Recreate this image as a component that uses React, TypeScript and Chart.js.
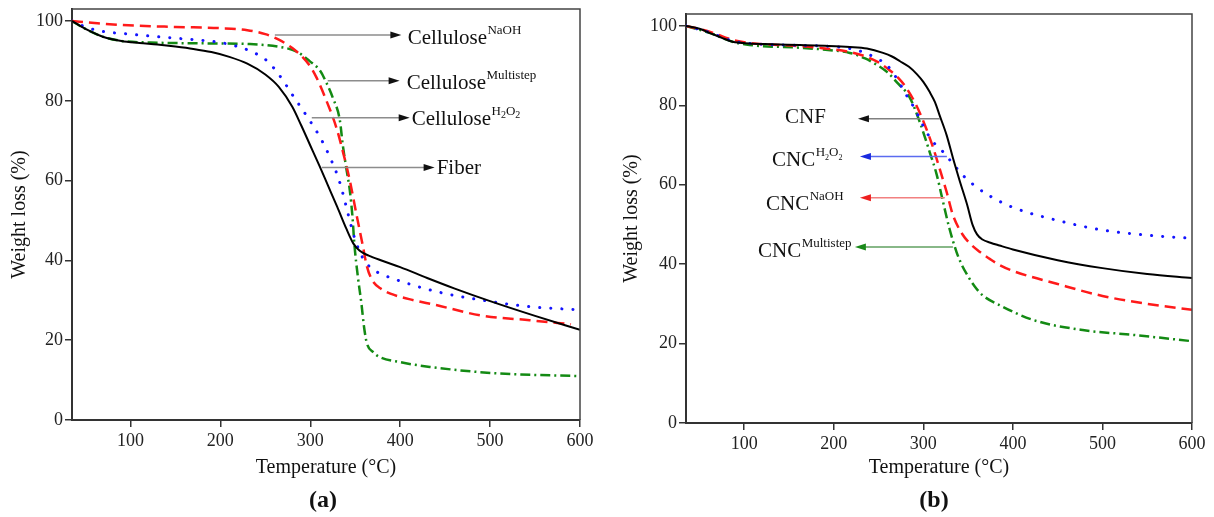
import React, { useEffect, useRef } from "react";
import { Chart, registerables } from "chart.js";
Chart.register(...registerables);

const FONT = "'Liberation Serif', 'Times New Roman', serif";
Chart.defaults.font.family = FONT;

const xTicks = [100, 200, 300, 400, 500, 600];
const yTicks = [0, 20, 40, 60, 80, 100];

// ---------- Panel (a) ----------
const fiberT = [35, 50, 70, 90, 110, 130, 150, 170, 190, 210, 230, 250, 265, 280, 290, 300, 310, 320, 330, 340, 348, 355, 365, 380, 400, 430, 460, 500, 550, 600];
const fiberW = [100, 98, 96, 95, 94.5, 94.1, 93.6, 93, 92.2, 91, 89.3, 86.6, 83.5, 78.5, 73.8, 68.8, 63.8, 58.6, 53.4, 48, 44.2, 42.4, 41.2, 39.9, 38.3, 35.6, 33, 29.8, 26.1, 22.6];

const naohT = [35, 60, 90, 150, 200, 230, 250, 265, 280, 292, 300, 307, 318, 329, 336, 344, 352, 358, 363, 369, 378, 390, 410, 440, 490, 544, 590];
const naohW = [100, 99.5, 99, 98.5, 98.2, 97.7, 96.7, 95.3, 93.2, 90.8, 88.6, 85.8, 80, 73.3, 67.5, 60, 50.8, 44.2, 38.5, 35, 33, 31.6, 30.3, 28.8, 26.2, 25, 24];

const h2o2T = [35, 50, 66, 99, 149, 177, 200, 216, 233, 252, 266, 281, 296, 311, 322, 331, 336, 342, 349, 358, 368, 380, 395, 440, 492, 544, 600];
const h2o2W = [100, 98.5, 97.5, 96.7, 95.7, 95.2, 94.6, 93.8, 92.5, 90, 86.3, 81.2, 76.2, 70.8, 65.8, 60.8, 57, 51.7, 45.8, 40.8, 38, 36.5, 35.2, 32.2, 30, 28.4, 27.6];

const multiT = [35, 50, 70, 90, 122, 177, 233, 266, 285, 299, 311, 318, 325, 333, 336, 340, 344, 347, 349, 353, 357, 360, 363, 370, 377, 400, 433, 507, 600];
const multiW = [100, 98, 96, 95, 94.6, 94.4, 94.2, 93.5, 92.3, 90, 87.5, 84.5, 80.8, 75, 69.2, 63.2, 57.5, 50.8, 44.2, 35.8, 29, 23, 19.2, 17, 15.8, 14.5, 13.3, 11.7, 11];

// ---------- Panel (b) ----------
const cnfT = [35, 50, 62, 75, 87, 106, 130, 162, 190, 218, 237, 255, 265, 274, 284, 293, 300, 307, 313, 318, 326, 333, 341, 349, 355, 360, 366, 375, 385, 400, 450, 500, 550, 600];
const cnfW = [100, 99.3, 98.2, 97, 96, 95.6, 95.4, 95.2, 95, 94.7, 94.3, 93.2, 92.3, 91.1, 89.7, 87.8, 85.9, 83.4, 80.8, 77.6, 72.5, 66.8, 60.7, 54.9, 49.9, 47.5, 46.2, 45.4, 44.7, 43.7, 41, 39, 37.5, 36.5];

const cncH2o2T = [35, 62, 87, 106, 162, 200, 218, 230, 240, 250, 259, 270, 281, 290, 300, 307, 314, 322, 333, 345, 360, 374, 400, 450, 500, 550, 600];
const cncH2o2W = [100, 98.3, 96.2, 95.6, 95.1, 94.8, 94.3, 93.6, 92.7, 91.6, 90.2, 86.9, 82.6, 79.3, 74.8, 72, 70, 68.3, 65.3, 62.2, 59.3, 57.2, 54.3, 51, 48.6, 47.3, 46.5];

const cncNaohT = [35, 62, 87, 106, 162, 183, 218, 237, 250, 262, 272, 281, 292, 303, 311, 318, 326, 333, 344, 353, 363, 375, 385, 400, 450, 500, 550, 600];
const cncNaohW = [100, 98.5, 96.5, 95.7, 94.9, 94.5, 93.4, 92.2, 90.8, 88.9, 86.9, 84.4, 80.1, 74.3, 69.3, 64.2, 58.2, 52.4, 47.4, 45, 43.1, 41.2, 39.8, 38.3, 35, 32, 30, 28.5];

const cncMultiT = [35, 62, 87, 106, 162, 200, 218, 235, 248, 260, 270, 285, 296, 307, 315, 322, 329, 337, 343, 349, 357, 366, 385, 422, 478, 534, 600];
const cncMultiW = [100, 98.2, 96, 95.2, 94.5, 93.8, 93.2, 91.8, 90.2, 88.3, 85.9, 81.9, 75.8, 68.3, 62.5, 55.7, 49.1, 43.1, 39.8, 37.3, 34.5, 32.2, 29.7, 26, 23.4, 22.2, 20.6];

// ---------- Annotations (in data units) ----------
type Sup = { t: string; sub?: boolean };
type Ann = { main: string; sup: Sup[]; w: number; from: number; to: number; textT: number; textW: number; lineColor: string; headColor: string };

const annA: Ann[] = [
  { main: "Cellulose", sup: [{ t: "NaOH" }], w: 96.5, from: 260.6, to: 401.3, textT: 408.3, textW: 94.25, lineColor: "#8c8c8c", headColor: "#111" },
  { main: "Cellulose", sup: [{ t: "Multistep" }], w: 85, from: 319.4, to: 399.4, textT: 407.2, textW: 83, lineColor: "#8c8c8c", headColor: "#111" },
  { main: "Cellulose", sup: [{ t: "H" }, { t: "2", sub: true }, { t: "O" }, { t: "2", sub: true }], w: 75.75, from: 301.7, to: 410.6, textT: 412.8, textW: 74, lineColor: "#8c8c8c", headColor: "#111" },
  { main: "Fiber", sup: [], w: 63.25, from: 312.8, to: 438.3, textT: 440.6, textW: 61.75, lineColor: "#8c8c8c", headColor: "#111" },
];

const annB: Ann[] = [
  { main: "CNF", sup: [], w: 76.6, from: 318.5, to: 227, textT: 145.5, textW: 75.6, lineColor: "#808080", headColor: "#111" },
  { main: "CNC", sup: [{ t: "H" }, { t: "2", sub: true }, { t: "O" }, { t: "2", sub: true }], w: 67.1, from: 326.3, to: 229.2, textT: 131, textW: 64.6, lineColor: "#5b6bf0", headColor: "#1a2ae0" },
  { main: "CNC", sup: [{ t: "NaOH" }], w: 56.7, from: 324, to: 229.2, textT: 124.3, textW: 53.7, lineColor: "#f28080", headColor: "#ee2020" },
  { main: "CNC", sup: [{ t: "Multistep" }], w: 44.3, from: 333, to: 223.6, textT: 115.4, textW: 41.8, lineColor: "#60a060", headColor: "#1a8a1a" },
];

const pts = (t: number[], w: number[]) => t.map((v, i) => ({ x: v, y: w[i] }));

const styleBlack = { borderColor: "#000", borderWidth: 2, borderDash: [] as number[], borderCapStyle: "butt" };
const styleRed = { borderColor: "#ff1a1a", borderWidth: 2.5, borderDash: [11, 6], borderCapStyle: "butt" };
const styleBlue = { borderColor: "#1414ff", borderWidth: 3, borderDash: [0.1, 11], borderCapStyle: "round" };
const styleGreen = { borderColor: "#138a13", borderWidth: 2.5, borderDash: [10, 4, 2, 4], borderCapStyle: "butt" };

function overlay(anns: Ann[], label: string, labelDx: number, mainSize: number, subSize: number) {
  return {
    id: "overlay",
    afterDraw(chart: any) {
      const { ctx, chartArea: ca } = chart;
      const xs = chart.scales.x;
      const ys = chart.scales.y;
      ctx.save();
      ctx.strokeStyle = "#444";
      ctx.lineWidth = 1.5;
      ctx.beginPath();
      ctx.moveTo(ca.left, ca.top);
      ctx.lineTo(ca.right, ca.top);
      ctx.lineTo(ca.right, ca.bottom);
      ctx.stroke();

      for (const a of anns) {
        const x1 = xs.getPixelForValue(a.from);
        const x2 = xs.getPixelForValue(a.to);
        const yy = ys.getPixelForValue(a.w);
        const dir = Math.sign(x2 - x1);
        ctx.strokeStyle = a.lineColor;
        ctx.lineWidth = 1.5;
        ctx.beginPath();
        ctx.moveTo(x1, yy);
        ctx.lineTo(x2 - dir * 8, yy);
        ctx.stroke();
        ctx.fillStyle = a.headColor;
        ctx.beginPath();
        ctx.moveTo(x2, yy);
        ctx.lineTo(x2 - dir * 11, yy - 3.5);
        ctx.lineTo(x2 - dir * 11, yy + 3.5);
        ctx.closePath();
        ctx.fill();

        const tx = xs.getPixelForValue(a.textT);
        const ty = ys.getPixelForValue(a.textW);
        ctx.fillStyle = "#111";
        ctx.textAlign = "left";
        ctx.textBaseline = "alphabetic";
        ctx.font = `${mainSize}px ${FONT}`;
        ctx.fillText(a.main, tx, ty);
        let cx = tx + ctx.measureText(a.main).width + 0.5;
        for (const p of a.sup) {
          ctx.font = `${p.sub ? subSize : 13}px ${FONT}`;
          ctx.fillText(p.t, cx, ty - (p.sub ? 6.5 : 10));
          cx += ctx.measureText(p.t).width;
        }
      }

      ctx.fillStyle = "#111";
      ctx.font = `bold 24px ${FONT}`;
      ctx.textAlign = "center";
      ctx.textBaseline = "middle";
      ctx.fillText(label, (ca.left + ca.right) / 2 + labelDx, chart.height - 16);
      ctx.restore();
    },
  };
}

type Layout = { top: number; right: number; yWidth: number; xHeight: number; yTitlePad: number };

function makeConfig(datasets: any[], lay: Layout, plugin: any) {
  const zeroPad = (s: any) => {
    s.paddingTop = 0;
    s.paddingBottom = 0;
    s.paddingLeft = 0;
    s.paddingRight = 0;
  };
  return {
    type: "line",
    data: { datasets },
    options: {
      responsive: false,
      animation: false,
      devicePixelRatio: 1,
      layout: { padding: { top: lay.top, right: lay.right, left: 0, bottom: 0 } },
      elements: { point: { radius: 0 }, line: { cubicInterpolationMode: "monotone", fill: false } },
      plugins: { legend: { display: false }, tooltip: { enabled: false } },
      scales: {
        x: {
          type: "linear",
          min: 35,
          max: 600,
          afterBuildTicks: (s: any) => {
            s.ticks = xTicks.map((v) => ({ value: v }));
          },
          afterFit: (s: any) => {
            s.height = lay.xHeight;
            zeroPad(s);
          },
          grid: { drawOnChartArea: false, drawTicks: true, tickLength: 7, color: "#333", lineWidth: 1.5 },
          border: { display: true, color: "#333", width: 2 },
          ticks: { font: { family: FONT, size: 18 }, color: "#222", padding: 3, maxRotation: 0, autoSkip: false },
          title: { display: true, text: "Temperature (°C)", font: { family: FONT, size: 20 }, color: "#111", padding: { top: 0, bottom: 37 } },
        },
        y: {
          type: "linear",
          min: 0,
          max: 103,
          afterBuildTicks: (s: any) => {
            s.ticks = yTicks.map((v) => ({ value: v }));
          },
          afterFit: (s: any) => {
            s.width = lay.yWidth;
            zeroPad(s);
          },
          grid: { drawOnChartArea: false, drawTicks: true, tickLength: 7, color: "#333", lineWidth: 1.5 },
          border: { display: true, color: "#333", width: 2 },
          ticks: { font: { family: FONT, size: 18 }, color: "#222", padding: 2 },
          title: { display: true, text: "Weight loss (%)", font: { family: FONT, size: 20 }, color: "#111", padding: { top: lay.yTitlePad, bottom: 0 } },
        },
      },
    },
    plugins: [plugin],
  };
}

export default function App() {
  const refA = useRef<HTMLCanvasElement>(null);
  const refB = useRef<HTMLCanvasElement>(null);

  useEffect(() => {
    document.body.style.margin = "0";
    const dsA = [
      { label: "Fiber", data: pts(fiberT, fiberW), ...styleBlack },
      { label: "Cellulose NaOH", data: pts(naohT, naohW), ...styleRed },
      { label: "Cellulose H2O2", data: pts(h2o2T, h2o2W), ...styleBlue },
      { label: "Cellulose Multistep", data: pts(multiT, multiW), ...styleGreen },
    ];
    const dsB = [
      { label: "CNF", data: pts(cnfT, cnfW), ...styleBlack },
      { label: "CNC H2O2", data: pts(cncH2o2T, cncH2o2W), ...styleBlue },
      { label: "CNC NaOH", data: pts(cncNaohT, cncNaohW), ...styleRed },
      { label: "CNC Multistep", data: pts(cncMultiT, cncMultiW), ...styleGreen },
    ];
    const a = new Chart(refA.current as HTMLCanvasElement, makeConfig(dsA, { top: 9, right: 27, yWidth: 72, xHeight: 97, yTitlePad: 8 }, overlay(annA, "(a)", -3, 21, 10)) as any);
    const b = new Chart(refB.current as HTMLCanvasElement, makeConfig(dsB, { top: 14, right: 22, yWidth: 79, xHeight: 94, yTitlePad: 13 }, overlay(annB, "(b)", -5, 21, 8)) as any);
    return () => {
      a.destroy();
      b.destroy();
    };
  }, []);

  return (
    <div style={{ position: "absolute", left: 0, top: 0, width: 1214, height: 517, background: "#fff" }}>
      <canvas ref={refA} width={607} height={517} style={{ position: "absolute", left: 0, top: 0, width: 607, height: 517 }} />
      <canvas ref={refB} width={607} height={517} style={{ position: "absolute", left: 607, top: 0, width: 607, height: 517 }} />
    </div>
  );
}
